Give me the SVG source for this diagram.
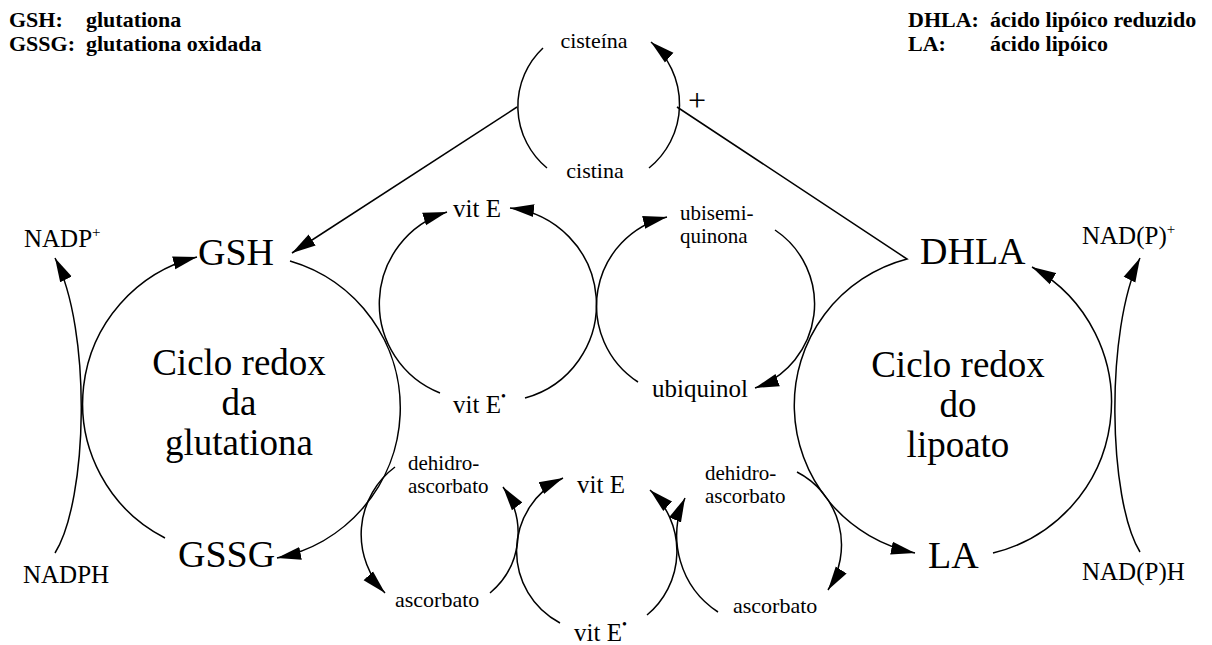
<svg xmlns="http://www.w3.org/2000/svg" width="1212" height="645" viewBox="0 0 1212 645">
<style>
text{font-family:"Liberation Serif","Times New Roman","DejaVu Serif",serif;fill:#000}
.leg{font-size:22px;font-weight:bold}
.big{font-size:38px}
.cyc{font-size:37px}
.nad{font-size:25px}
.mid{font-size:25px}
.sm{font-size:22px}
.xs{font-size:21px}
.c{text-anchor:middle}
.ln{fill:none;stroke:#000;stroke-width:1.5}
.ar{marker-end:url(#ah)}
</style>
<defs>
<marker id="ah" markerUnits="userSpaceOnUse" markerWidth="26" markerHeight="16" refX="24" refY="8" orient="auto">
<path d="M0,1.5 L24,8 L0,14.5 Z" fill="#000"/>
</marker>
</defs>
<rect width="1212" height="645" fill="#fff"/>
<g id="legend-left">
<text class="leg" x="9" y="27">GSH:</text><text class="leg" x="86" y="27">glutationa</text>
<text class="leg" x="9" y="51">GSSG:</text><text class="leg" x="86" y="51">glutationa oxidada</text>
</g>
<g id="legend-right">
<text class="leg" x="908" y="27">DHLA:</text><text class="leg" x="990" y="27">ácido lipóico reduzido</text>
<text class="leg" x="908" y="51">LA:</text><text class="leg" x="990" y="51">ácido lipóico</text>
</g>
<g id="connectors">
<path class="ln ar" d="M165,538 A151,151 0 0,1 197,257"/>
<path class="ln ar" d="M290,261 A153,153 0 0,1 277,558"/>
<path class="ln ar" d="M55,553 C88,500 92,330 55,258"/>
<path class="ln ar" d="M517,107 L292,253"/>
<path class="ln" d="M543,48 A80,80 0 0,0 547,168"/>
<path class="ln ar" d="M649,168 A82,82 0 0,0 651,42"/>
<path class="ln ar" d="M677,107 L907,259 A151,151 0 0,0 915,553"/>
<path class="ln ar" d="M993,553 A155,155 0 0,0 1032,267"/>
<path class="ln ar" d="M1140,552 C1108,500 1105,330 1140,258"/>
<path class="ln ar" d="M440,393 A96,96 0 0,1 447,212"/>
<path class="ln ar" d="M525,398 A97,97 0 0,0 510,208"/>
<path class="ln ar" d="M638,382 A91,91 0 0,1 667,217"/>
<path class="ln ar" d="M775,230 A89,89 0 0,1 755,388"/>
<path class="ln ar" d="M395,467 A84,84 0 0,0 385,593"/>
<path class="ln ar" d="M490,593 A78,78 0 0,0 503,487"/>
<path class="ln ar" d="M560,623 A81,81 0 0,1 563,478"/>
<path class="ln ar" d="M647,615 A83,83 0 0,0 650,490"/>
<path class="ln ar" d="M718,612 A91,91 0 0,1 685,498"/>
<path class="ln ar" d="M797,472 A82,82 0 0,1 828,590"/>
</g>
<g id="plus"><text x="697" y="111" class="c" style="font-size:32px">+</text></g>
<g id="cisteina"><text class="sm c" x="594" y="48">cisteína</text></g>
<g id="cistina"><text class="sm c" x="595" y="178">cistina</text></g>
<g id="GSH"><text class="big" x="198" y="265">GSH</text></g>
<g id="GSSG"><text class="big" x="178" y="567">GSSG</text></g>
<g id="NADPplus"><text class="nad" x="24" y="247">NADP<tspan style="font-size:15px" dy="-10">+</tspan></text></g>
<g id="NADPH"><text class="nad" x="23" y="583">NADPH</text></g>
<g id="ciclo-glutationa"><text class="cyc c" x="239" y="375">Ciclo redox</text><text class="cyc c" x="239" y="415">da</text><text class="cyc c" x="239" y="455">glutationa</text></g>
<g id="DHLA"><text class="big" x="920" y="264">DHLA</text></g>
<g id="LA"><text class="big" x="928" y="568">LA</text></g>
<g id="NADPplus-r"><text class="nad" x="1082" y="244">NAD(P)<tspan style="font-size:15px" dy="-10">+</tspan></text></g>
<g id="NADPH-r"><text class="nad" x="1082" y="580">NAD(P)H</text></g>
<g id="ciclo-lipoato"><text class="cyc c" x="958" y="377">Ciclo redox</text><text class="cyc c" x="958" y="417">do</text><text class="cyc c" x="958" y="457">lipoato</text></g>
<g id="vitE-top"><text class="mid" x="453" y="217">vit E</text></g>
<g id="vitErad-top"><text class="mid" x="453" y="413">vit E<tspan style="font-size:14px" dy="-12">•</tspan></text></g>
<g id="ubisemiquinona"><text class="xs" x="680" y="220">ubisemi-</text><text class="xs" x="680" y="243">quinona</text></g>
<g id="ubiquinol"><text class="mid" x="652" y="397">ubiquinol</text></g>
<g id="dehidro-left"><text class="xs" x="408" y="470">dehidro-</text><text class="xs" x="408" y="493">ascorbato</text></g>
<g id="ascorbato-left"><text class="sm" x="395" y="607">ascorbato</text></g>
<g id="vitE-bottom"><text class="mid" x="577" y="493">vit E</text></g>
<g id="vitErad-bottom"><text class="mid" x="574" y="641">vit E<tspan style="font-size:14px" dy="-12">•</tspan></text></g>
<g id="dehidro-right"><text class="xs" x="705" y="480">dehidro-</text><text class="xs" x="705" y="503">ascorbato</text></g>
<g id="ascorbato-right"><text class="sm" x="733" y="613">ascorbato</text></g>
</svg>
